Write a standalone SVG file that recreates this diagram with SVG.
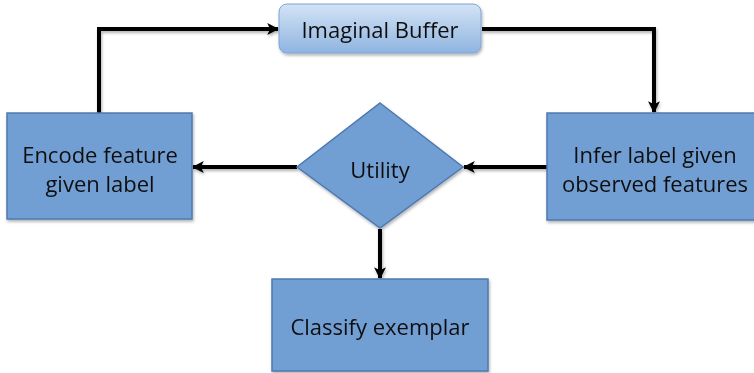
<svg xmlns="http://www.w3.org/2000/svg" width="754" height="373" viewBox="0 0 754 373">
  <defs>
    <linearGradient id="bufferFill" x1="0" y1="0" x2="0" y2="1">
      <stop offset="0" stop-color="#d3e3f5"/>
      <stop offset="1" stop-color="#8fb4e0"/>
    </linearGradient>
    <marker id="arrow" viewBox="0 0 10 10" refX="9" refY="5" markerWidth="3" markerHeight="3" orient="auto" markerUnits="strokeWidth">
      <path d="M0,0 L10,5 L0,10 L2.5,5 Z" fill="#000"/>
    </marker>
    <filter id="shadow" x="-10%" y="-10%" width="130%" height="130%">
      <feDropShadow dx="1" dy="2" stdDeviation="1.5" flood-color="#000" flood-opacity="0.3"/>
    </filter>
  </defs>
  <style>
    .box { fill: #719ed3; stroke: #4d79b0; stroke-width: 1.5; }
    .label { font-family: "Open Sans", "Liberation Sans", sans-serif; font-size: 22px; fill: #111; text-anchor: middle; }
    .link { fill: none; stroke: #000; stroke-width: 4; marker-end: url(#arrow); }
  </style>
  <rect width="754" height="373" fill="#fff"/>

  <g id="connectors" filter="url(#shadow)">
    <path class="link" d="M99,113 V29 H278"/>
    <path class="link" d="M482,29 H654 V112"/>
    <path class="link" d="M547,167 H464"/>
    <path class="link" d="M297,167 H193"/>
    <path class="link" d="M380,229 V278"/>
  </g>

  <g id="imaginal-buffer" filter="url(#shadow)">
    <rect x="279" y="4" width="202" height="49" rx="8" fill="url(#bufferFill)" stroke="#7fa6d6" stroke-width="1"/>
    <text class="label" x="380" y="38">Imaginal Buffer</text>
  </g>

  <g id="encode-feature" filter="url(#shadow)">
    <rect class="box" x="7" y="113" width="185" height="106"/>
    <text class="label" x="100" y="163">Encode feature</text>
    <text class="label" x="100" y="192">given label</text>
  </g>

  <g id="infer-label" filter="url(#shadow)">
    <rect class="box" x="547" y="113" width="212" height="107"/>
    <text class="label" x="655" y="163">Infer label given</text>
    <text class="label" x="655" y="192">observed features</text>
  </g>

  <g id="utility" filter="url(#shadow)">
    <polygon class="box" points="380,103 463,167 380,228 297,167"/>
    <text class="label" x="380" y="178">Utility</text>
  </g>

  <g id="classify-exemplar" filter="url(#shadow)">
    <rect class="box" x="272" y="279" width="216" height="92"/>
    <text class="label" x="380" y="335">Classify exemplar</text>
  </g>
</svg>
